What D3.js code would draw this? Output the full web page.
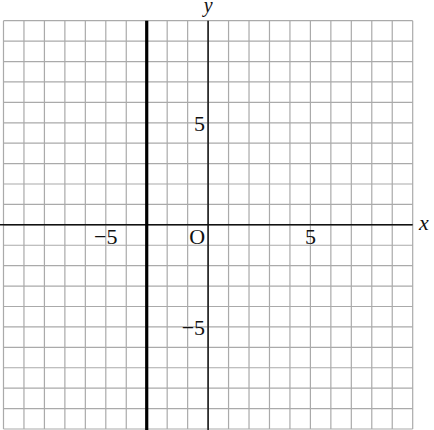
<!DOCTYPE html>
<html>
<head>
<meta charset="utf-8">
<script src="https://cdn.jsdelivr.net/npm/d3@7"></script>
<style>
  body { margin: 0; background: #fff; }
  svg { display: block; }
  text { font-family: "Liberation Serif", "DejaVu Serif", serif; fill: #111; }
</style>
</head>
<body>
<div id="chart"></div>
<script>
// values
var gridValues = d3.range(-10, 11);      // one grid line per unit
var xTickValues = [-5, 5];
var yTickValues = [5, -5];
var xTickLabels = ["\u22125", "5"];
var yTickLabels = ["5", "\u22125"];
var originLabel = "O";
var highlightX = [-3];                    // the bold vertical line

var width = 434, height = 430;

var svg = d3.select("#chart").append("svg")
  .attr("width", width)
  .attr("height", height);

var x = d3.scaleLinear().domain([-10, 10]).range([3.5, 412.7]);
var y = d3.scaleLinear().domain([-10, 10]).range([429, 20.7]);

var grid = svg.append("g").attr("id", "grid");

grid.selectAll("line.v")
  .data(gridValues)
  .enter().append("line")
   .attr("class", "v")
   .attr("x1", function(d) { return x(d); })
   .attr("x2", function(d) { return x(d); })
   .attr("y1", y(10))
   .attr("y2", y(-10))
   .attr("stroke", "#aaa")
   .attr("stroke-width", 1.2);

grid.selectAll("line.h")
  .data(gridValues)
  .enter().append("line")
   .attr("class", "h")
   .attr("y1", function(d) { return y(d); })
   .attr("y2", function(d) { return y(d); })
   .attr("x1", x(-10))
   .attr("x2", x(10))
   .attr("stroke", "#aaa")
   .attr("stroke-width", 1.2);

// axes
svg.append("line")
  .attr("x1", 0)
  .attr("x2", x(10))
  .attr("y1", y(0))
  .attr("y2", y(0))
  .attr("stroke", "#111")
  .attr("stroke-width", 1.5);

svg.append("line")
  .attr("x1", x(0))
  .attr("x2", x(0))
  .attr("y1", y(10))
  .attr("y2", height)
  .attr("stroke", "#111")
  .attr("stroke-width", 1.5);

// bold line x = -3
svg.selectAll("line.bold")
  .data(highlightX)
  .enter().append("line")
   .attr("class", "bold")
   .attr("x1", function(d) { return x(d); })
   .attr("x2", function(d) { return x(d); })
   .attr("y1", y(10))
   .attr("y2", height)
   .attr("stroke", "#000")
   .attr("stroke-width", 3.2);

// tick labels
var labels = svg.append("g").attr("id", "labels");

labels.selectAll("text.xt")
  .data(xTickValues)
  .enter().append("text")
   .attr("class", "xt")
   .attr("x", function(d) { return x(d); })
   .attr("y", y(0) + 19)
   .attr("text-anchor", "middle")
   .attr("font-size", 22)
   .text(function(d, i) { return xTickLabels[i]; });

labels.selectAll("text.yt")
  .data(yTickValues)
  .enter().append("text")
   .attr("class", "yt")
   .attr("x", x(0) - 3)
   .attr("y", function(d) { return y(d) + 8; })
   .attr("text-anchor", "end")
   .attr("font-size", 22)
   .text(function(d, i) { return yTickLabels[i]; });

labels.append("text")
  .attr("x", x(0) - 3)
  .attr("y", y(0) + 19)
  .attr("text-anchor", "end")
  .attr("font-size", 22)
  .text(originLabel);

// axis names
svg.append("text")
  .attr("x", 419)
  .attr("y", y(0) + 5)
  .attr("font-size", 22)
  .attr("font-style", "italic")
  .text("x");

svg.append("text")
  .attr("x", x(0))
  .attr("y", 12)
  .attr("text-anchor", "middle")
  .attr("font-size", 20)
  .attr("font-style", "italic")
  .text("y");
</script>
</body>
</html>
